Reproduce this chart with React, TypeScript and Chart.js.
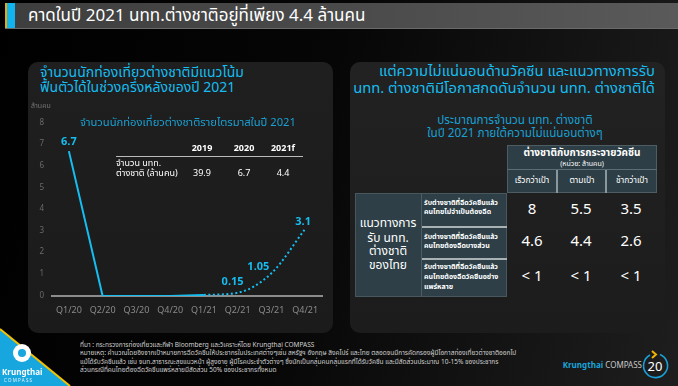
import React, { useEffect, useRef } from "react";
import { Chart, registerables } from "chart.js";

Chart.register(...registerables);

// ---------- data ----------
const quarters = ["Q1/20", "Q2/20", "Q3/20", "Q4/20", "Q1/21", "Q2/21", "Q3/21", "Q4/21"];
const actualValues = [6.7, 0, 0, 0, 0.05, null, null, null];
const forecastValues = [null, null, null, null, 0.05, 0.15, 1.05, 3.1];
const labelledDataset = [0, 1, 1, 1];
const labelledIndex = [0, 5, 6, 7];
const labelTexts = ["6.7", "0.15", "1.05", "3.1"];
const yMin = 0;
const yMax = 8;
const yStep = 1;

const yearHeaders = ["2019", "2020", "2021f"];
const yearValues = ["39.9", "6.7", "4.4"];

const scenarioHeaders = ["เร็วกว่าเป้า", "ตามเป้า", "ช้ากว่าเป้า"];
const policyRows = [
  ["รับต่างชาติที่ฉีดวัคซีนแล้ว", "คนไทยไม่จำเป็นต้องฉีด"],
  ["รับต่างชาติที่ฉีดวัคซีนแล้ว", "คนไทยต้องฉีดบางส่วน"],
  ["รับต่างชาติที่ฉีดวัคซีนแล้ว", "คนไทยต้องฉีดวัคซีนอย่าง", "แพร่หลาย"],
];
const scenarioValues = [
  ["8", "5.5", "3.5"],
  ["4.6", "4.4", "2.6"],
  ["< 1", "< 1", "< 1"],
];

// ---------- styles ----------
const FONT = '"Noto Sans Thai", "Noto Sans", "DejaVu Sans", sans-serif';
const CYAN = "#16bdf0";
const CYAN_DIM = "#1aa0d4";
const labelOffsets = [
  [0, -3],
  [-5, -4],
  [-13, 0],
  [-2, -1],
];

type TP = {
  x: number;
  y: number;
  size: number;
  color?: string;
  bold?: boolean;
  align?: "left" | "center" | "right";
  w?: number;
  children: React.ReactNode;
};

function T({ x, y, size, color = "#fff", bold = false, align = "left", w = 0, children }: TP) {
  const lh = size * 1.3;
  let left = x;
  let width: number | undefined = undefined;
  if (align === "center") {
    width = w || 400;
    left = x - width / 2;
  } else if (align === "right") {
    width = w || 400;
    left = x - width;
  }
  return (
    <div
      style={{
        position: "absolute",
        left,
        top: y - lh / 2,
        width,
        fontSize: size,
        lineHeight: lh + "px",
        color,
        fontWeight: bold ? 700 : 400,
        textAlign: align,
        whiteSpace: "nowrap",
        fontFamily: FONT,
      }}
    >
      {children}
    </div>
  );
}

function LineChart() {
  const ref = useRef<HTMLCanvasElement | null>(null);
  useEffect(() => {
    if (!ref.current) return;
    const labelPlugin = {
      id: "pointLabels",
      afterDatasetsDraw(chart: any) {
        const ctx = chart.ctx;
        ctx.save();
        ctx.font = `bold 11px ${FONT}`;
        ctx.fillStyle = CYAN;
        ctx.textAlign = "center";
        ctx.textBaseline = "bottom";
        labelTexts.forEach((t, k) => {
          const el = chart.getDatasetMeta(labelledDataset[k]).data[labelledIndex[k]];
          if (!el) return;
          ctx.fillText(t, el.x + labelOffsets[k][0], el.y + labelOffsets[k][1]);
        });
        ctx.restore();
      },
    };
    const chart = new Chart(ref.current, {
      type: "line",
      data: {
        labels: quarters,
        datasets: [
          {
            data: actualValues,
            borderColor: CYAN,
            borderWidth: 2,
            pointRadius: 0,
            tension: 0,
            spanGaps: false,
          },
          {
            data: forecastValues,
            borderColor: CYAN,
            borderWidth: 2,
            borderDash: [2, 2.5],
            pointRadius: 0,
            tension: 0.3,
            cubicInterpolationMode: "monotone",
          },
        ],
      },
      options: {
        animation: false,
        responsive: false,
        maintainAspectRatio: false,
        layout: { padding: { top: 23, right: 8, left: 0, bottom: 0 } },
        plugins: { legend: { display: false }, tooltip: { enabled: false } },
        scales: {
          x: {
            offset: true,
            grid: { display: false, drawTicks: false },
            border: { display: true, color: "#8c8c8c", width: 2 },
            ticks: { color: "#8a8a8a", font: { size: 9, family: FONT }, padding: 10 },
            afterFit: (s: any) => {
              s.height = 28;
            },
          },
          y: {
            min: yMin,
            max: yMax,
            grid: { display: false, drawTicks: false },
            border: { display: false },
            ticks: { stepSize: yStep, color: "#6a6a6a", font: { size: 8, family: FONT }, padding: 8 },
            afterFit: (s: any) => {
              s.width = 24;
            },
          },
        },
      },
      plugins: [labelPlugin],
    } as any);
    return () => chart.destroy();
  }, []);
  return (
    <canvas
      ref={ref}
      width={302}
      height={224}
      style={{ position: "absolute", left: 28, top: 100, width: 302, height: 224 }}
    />
  );
}

export default function App() {
  const colX = [507, 557, 607, 657];
  const valueX = [532, 581, 631];
  const valueY = [210, 242, 277];
  return (
    <div
      style={{
        position: "fixed",
        left: 0,
        top: 0,
        width: 678,
        height: 386,
        overflow: "hidden",
        fontFamily: FONT,
        background: "linear-gradient(105deg, #000 0%, #060606 45%, #1e1e1e 100%)",
      }}
    >
      {/* title bar */}
      <div
        style={{
          position: "absolute",
          left: 5,
          top: 3,
          width: 673,
          height: 25,
          background: "linear-gradient(90deg, #3e3e3e 0%, #4a4a4a 50%, #5a5a5a 100%)",
          borderBottom: "1px solid #6a6a6a",
        }}
      />
      <div style={{ position: "absolute", left: 5, top: 3, width: 2, height: 25, background: "#f0a800" }} />
      <div style={{ position: "absolute", left: 7, top: 3, width: 8, height: 25, background: "#10b4ee" }} />
      <T x={28} y={16} size={17}>
        คาดในปี 2021 นทท.ต่างชาติอยู่ที่เพียง 4.4 ล้านคน
      </T>

      {/* panels */}
      <div
        style={{
          position: "absolute",
          left: 28,
          top: 62,
          width: 305,
          height: 271,
          borderRadius: 10,
          background: "linear-gradient(180deg, #1f1f1f 0%, #1b1b1b 100%)",
        }}
      />
      <div
        style={{
          position: "absolute",
          left: 350,
          top: 62,
          width: 315,
          height: 271,
          borderRadius: 10,
          background: "linear-gradient(180deg, #222 0%, #1c1c1c 100%)",
        }}
      />

      {/* left panel */}
      <T x={40} y={73} size={14} color={CYAN}>
        จำนวนนักท่องเที่ยวต่างชาติมีแนวโน้ม
      </T>
      <T x={40} y={88} size={14} color={CYAN}>
        ฟื้นตัวได้ในช่วงครึ่งหลังของปี 2021
      </T>
      <LineChart />
      <T x={31} y={107} size={7} color="#777">
        ล้านคน
      </T>
      <T x={80} y={123} size={11.2} color={CYAN_DIM}>
        จำนวนนักท่องเที่ยวต่างชาติรายไตรมาสในปี 2021
      </T>
      {/* inset table */}
      <div style={{ position: "absolute", left: 116, top: 155.5, width: 187, height: 1, background: "#bbb" }} />
      {yearHeaders.map((h, i) => (
        <T key={h} x={[202, 244, 283][i]} y={149} size={9} bold align="center" w={60}>
          {h}
        </T>
      ))}
      <T x={116} y={164} size={9}>
        จำนวน นทท.
      </T>
      <T x={116} y={174} size={9}>
        ต่างชาติ (ล้านคน)
      </T>
      {yearValues.map((v, i) => (
        <T key={i} x={[202, 244, 283][i]} y={174} size={9} align="center" w={60}>
          {v}
        </T>
      ))}

      {/* right panel */}
      <T x={655} y={72} size={14.8} color={CYAN} align="right" w={320}>
        แต่ความไม่แน่นอนด้านวัคซีน และแนวทางการรับ
      </T>
      <T x={655} y={89} size={14.8} color={CYAN} align="right" w={320}>
        นทท. ต่างชาติมีโอกาสกดดันจำนวน นทท. ต่างชาติได้
      </T>
      <T x={515} y={121} size={11.7} color={CYAN_DIM} align="center" w={260}>
        ประมาณการจำนวน นทท. ต่างชาติ
      </T>
      <T x={515} y={134} size={11.7} color={CYAN_DIM} align="center" w={260}>
        ในปี 2021 ภายใต้ความไม่แน่นอนต่างๆ
      </T>

      {/* table header block */}
      <div
        style={{
          position: "absolute",
          left: 507,
          top: 145,
          width: 150,
          height: 48,
          background: "#2d3e46",
          boxSizing: "border-box",
          border: "1px solid #4c5d64",
        }}
      />
      <div style={{ position: "absolute", left: 507, top: 169, width: 150, height: 1, background: "#5d6d73" }} />
      <div style={{ position: "absolute", left: 556, top: 170, width: 2, height: 23, background: "#8a979c" }} />
      <div style={{ position: "absolute", left: 605, top: 170, width: 2, height: 23, background: "#8a979c" }} />
      <T x={582} y={153} size={10} bold align="center" w={150}>
        ต่างชาติกับการกระจายวัคซีน
      </T>
      <T x={582} y={165} size={7} align="center" w={150}>
        (หน่วย: ล้านคน)
      </T>
      {scenarioHeaders.map((h, i) => (
        <T key={h} x={(colX[i] + colX[i + 1]) / 2} y={181} size={8.5} align="center" w={50}>
          {h}
        </T>
      ))}

      {/* left block */}
      <div
        style={{
          position: "absolute",
          left: 355,
          top: 193,
          width: 152,
          height: 104,
          background: "#2e3f47",
          boxSizing: "border-box",
          border: "1px solid #46575e",
        }}
      />
      <div style={{ position: "absolute", left: 421, top: 193, width: 1, height: 104, background: "#4c5d64" }} />
      <div style={{ position: "absolute", left: 422, top: 226, width: 85, height: 2, background: "#a8b2b5" }} />
      <div style={{ position: "absolute", left: 422, top: 258, width: 85, height: 2, background: "#a8b2b5" }} />
      {["แนวทางการ", "รับ นทท.", "ต่างชาติ", "ของไทย"].map((s, i) => (
        <T key={s} x={388} y={[224, 238.5, 252, 266][i]} size={12} align="center" w={70}>
          {s}
        </T>
      ))}
      {policyRows.map((lines, r) =>
        lines.map((s, k) => (
          <T key={r + "-" + k} x={424} y={[[204, 213], [238, 247], [268, 278, 288]][r][k]} size={7} bold>
            {s}
          </T>
        ))
      )}
      {scenarioValues.map((row, r) =>
        row.map((v, c) => (
          <T key={r + "-" + c} x={valueX[c]} y={valueY[r]} size={15} align="center" w={50}>
            {v}
          </T>
        ))
      )}

      {/* footer */}
      <T x={80} y={345} size={6.5} color="#cfcfcf">
        ที่มา : กระทรวงการท่องเที่ยวและกีฬา Bloomberg และวิเคราะห์โดย Krungthai COMPASS
      </T>
      <T x={80} y={353.5} size={6.5} color="#cfcfcf">
        หมายเหตุ: คำนวณโดยอิงจากเป้าหมายการฉีดวัคซีนให้ประชากรในประเทศต่างๆเช่น สหรัฐฯ อังกฤษ สิงคโปร์ และไทย ตลอดจนมีการคัดกรองผู้มีโอกาสท่องเที่ยวต่างชาติออกไป
      </T>
      <T x={80} y={362} size={6.5} color="#cfcfcf">
        แม้ได้รับวัคซีนแล้ว เช่น จนท.สาธารณะสุขแนวหน้า ผู้สูงอายุ ผู้มีโรคประจำตัวต่างๆ ซึ่งนักเป็นกลุ่มคนกลุ่มแรกที่ได้รับวัคซีน และมีสัดส่วนประมาณ 10-15% ของประชากร
      </T>
      <T x={80} y={370.5} size={6.5} color="#cfcfcf">
        ส่วนกรณีที่คนไทยต้องฉีดวัคซีนแพร่หลายมีสัดส่วน 50% ของประชากรทั้งหมด
      </T>

      {/* logo */}
      <svg style={{ position: "absolute", left: 0, top: 320 }} width={90} height={66}>
        <polygon points="0,9 70,66 0,66" fill="#18a6de" />
        <line x1={0} y1={9} x2={70} y2={66} stroke="#f2c200" strokeWidth={2} />
        <circle cx={22} cy={33} r={9} fill="#fff" />
        <circle cx={22} cy={33} r={4} fill="#18a6de" />
      </svg>
      <T x={2} y={373} size={8} bold>
        Krungthai
      </T>
      <T x={4} y={381} size={4.5} color="#e8f6fc">
        C O M P A S S
      </T>

      {/* page number */}
      <T x={642} y={366} size={8} align="right" w={120}>
        <span style={{ color: "#1aa6dc", fontWeight: 700 }}>Krungthai</span>
        <span style={{ color: "#c8c8c8" }}> COMPASS</span>
      </T>
      <svg style={{ position: "absolute", left: 640, top: 350 }} width={32} height={34}>
        <path d="M 20 4.5 A 12 12 0 1 1 10 5" fill="none" stroke="#1aa0d8" strokeWidth={1.6} />
        <polyline points="12,1 16,4.5 12,8" fill="none" stroke="#f2b400" strokeWidth={2} />
      </svg>
      <T x={655} y={367} size={13} align="center" w={30}>
        20
      </T>
    </div>
  );
}
